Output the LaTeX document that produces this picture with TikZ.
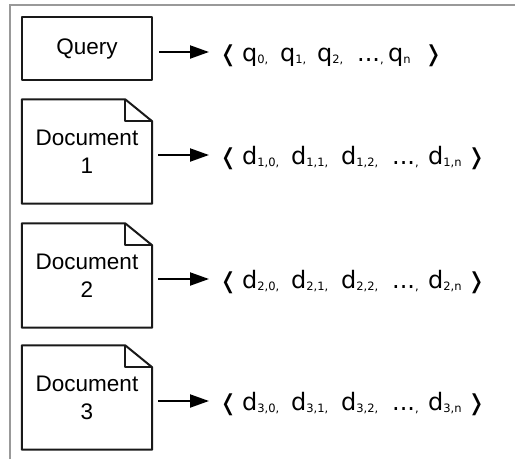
\documentclass[tikz,border=0pt]{standalone}
\usepackage{fontspec}
\setmainfont{Liberation Sans}
\newfontfamily\brk{DejaVu Sans}
\usetikzlibrary{arrows.meta}
\newcommand\sbx[1]{\raisebox{-2.5pt}{\fontsize{11.5}{12}\selectfont #1}}
\newcommand\itm[2]{\makebox[#1][l]{#2}}
\newcommand\lbr{{\fontsize{22}{22}\selectfont ❬}}
\newcommand\rbr{{\fontsize{22}{22}\selectfont ❭}}
\begin{document}
\begin{tikzpicture}[x=1pt,y=-1pt,
  frame/.style={draw=black!40,line width=2pt},
  boxline/.style={draw=black!90,line width=2pt,line join=round},
  label/.style={font=\fontsize{22.5}{28}\selectfont,align=center,inner sep=0pt},
  holder/.style={minimum width=130pt,minimum height=104pt,inner sep=0pt,label},
  vec/.style={anchor=base west,inner sep=0pt,font=\brk\fontsize{24}{24}\selectfont},
  arr/.style={draw=black,line width=2pt,-{Triangle[length=19pt,width=13pt]}}]
\useasboundingbox (0,0) rectangle (515,459);
\draw[frame] (10,459) -- (10,5) -- (515,5);
% Query
\node[minimum width=130pt,minimum height=63pt,inner sep=0pt,label,boxline] (q) at (87,48.5) {Query};
\node[vec] (qv) at (219,61) {\itm{23pt}{\lbr}\itm{38pt}{q\sbx{0,}}\itm{37pt}{q\sbx{1,}}\itm{40pt}{q\sbx{2,}}\itm{31pt}{...\sbx{,}}\itm{36pt}{q\sbx{n}}\rbr};
\coordinate (qt) at (209,52);
\draw[arr] ([xshift=6pt]q.east |- qt) -- (qt);
% Documents
\foreach \i/\y in {1/151.5,2/275.5,3/397.5}{
  \node[holder] (d\i) at (87,\y) {Document\\\i};
  \draw[boxline] (d\i.north west) -- ([xshift=-27pt]d\i.north east) -- ([yshift=-22pt]d\i.north east) -- (d\i.south east) -- (d\i.south west) -- cycle;
  \draw[boxline] ([xshift=-27pt]d\i.north east) -- ([xshift=-27pt,yshift=-22pt]d\i.north east) -- ([yshift=-22pt]d\i.north east);
  \node[vec] (v\i) at (219,\y+12.5) {\itm{23pt}{\lbr}\itm{49pt}{d\sbx{\i,0,}}\itm{50pt}{d\sbx{\i,1,}}\itm{51pt}{d\sbx{\i,2,}}\itm{36pt}{...\sbx{,}}\itm{39pt}{d\sbx{\i,n}}\rbr};
  \coordinate (t\i) at (209,\y+3.5);
  \draw[arr] ([xshift=6pt]d\i.east |- t\i) -- (t\i);
}
\end{tikzpicture}
\end{document}
